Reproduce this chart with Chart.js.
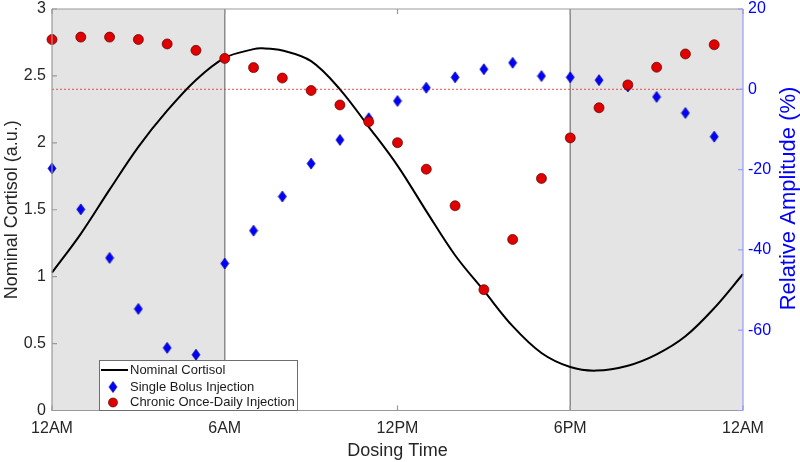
<!DOCTYPE html>
<html><head><meta charset="utf-8">
<script src="https://cdn.jsdelivr.net/npm/chart.js@4"></script>
<style>html,body{margin:0;padding:0;background:#fff;overflow:hidden}</style>
</head><body>
<canvas id="c" width="800" height="462"></canvas>
<script>
// ---------- data ----------
const hours = [0,1,2,3,4,5,6,7,8,9,10,11,12,13,14,15,16,17,18,19,20,21,22,23];
const singleBolus = [-19.7,-29.9,-42.0,-54.7,-64.4,-66.1,-43.4,-35.2,-26.7,-18.5,-12.6,-7.2,-2.9,0.4,3.0,5.0,6.6,3.3,3.0,2.3,0.7,-1.9,-5.9,-11.8];
const chronicDaily = [12.4,13.0,13.0,12.4,11.3,9.7,7.7,5.4,2.8,-0.3,-3.9,-8.1,-13.3,-19.9,-29.0,-49.9,-37.4,-22.2,-12.1,-4.6,1.1,5.5,8.8,11.1];
const curveHours = [0,1,2,3,4,5,6,7,7.3,8,9,10,11,12,13,14,15,16,17,18,18.9,20,21,22,23,24];
const curveValues = [1.03,1.32,1.65,1.97,2.24,2.47,2.635,2.70,2.706,2.69,2.61,2.40,2.12,1.83,1.49,1.16,0.895,0.63,0.43,0.325,0.298,0.335,0.42,0.555,0.765,1.02];
const refHours = [0,24];
const refValues = [0,0];
const xTickLabels = {0:'12AM',6:'6AM',12:'12PM',18:'6PM',24:'12AM'};
const nightRanges = [[0,6],[18,24]];
const seriesNames = ['Nominal Cortisol','Single Bolus Injection','Chronic Once-Daily Injection'];
const titles = {x:'Dosing Time', y:'Nominal Cortisol (a.u.)', y2:'Relative Amplitude (%)'};

// ---------- styling ----------
const FONT = "'Liberation Sans', Arial, Helvetica, sans-serif";
const BLUE = '#0000ff', RED = '#e00000';
function diamond(w,h){
  const c=document.createElement('canvas');c.width=w+2;c.height=h+2;
  const g=c.getContext('2d');
  g.beginPath();g.moveTo(c.width/2,1);g.lineTo(c.width-1,c.height/2);
  g.lineTo(c.width/2,c.height-1);g.lineTo(1,c.height/2);g.closePath();
  g.fillStyle=BLUE;g.fill();g.strokeStyle='#00008a';g.lineWidth=0.7;g.stroke();
  return c;
}
const dia = diamond(8,11);

const decor = {
  id:'decor',
  beforeDatasetsDraw(chart){
    const {ctx, chartArea:a, scales:{x}} = chart;
    ctx.save();
    ctx.fillStyle='#e4e4e4';
    nightRanges.forEach(([s,e])=>{
      const x0=x.getPixelForValue(s), x1=x.getPixelForValue(e);
      ctx.fillRect(x0,a.top,x1-x0,a.bottom-a.top);
    });
    ctx.strokeStyle='#8c8c8c'; ctx.lineWidth=1.5;
    [nightRanges[0][1], nightRanges[1][0]].forEach(h=>{
      const px=x.getPixelForValue(h);
      ctx.beginPath(); ctx.moveTo(px,a.top); ctx.lineTo(px,a.bottom); ctx.stroke();
    });
    ctx.restore();
  },
  afterDraw(chart){
    const {ctx, chartArea:a, scales:{x,y,y2}} = chart;
    ctx.save();
    // box
    ctx.lineWidth=1.2; ctx.strokeStyle='#9a9a9a';
    ctx.beginPath();
    ctx.moveTo(a.left,a.top); ctx.lineTo(a.right,a.top);
    ctx.moveTo(a.left,a.top); ctx.lineTo(a.left,a.bottom); ctx.lineTo(a.right,a.bottom);
    ctx.stroke();
    // inward ticks
    ctx.beginPath();
    y.ticks.forEach(t=>{const p=y.getPixelForValue(t.value); ctx.moveTo(a.left,p); ctx.lineTo(a.left+5,p);});
    x.ticks.forEach(t=>{const p=x.getPixelForValue(t.value); ctx.moveTo(p,a.bottom); ctx.lineTo(p,a.bottom-5); ctx.moveTo(p,a.top); ctx.lineTo(p,a.top+5);});
    ctx.stroke();
    ctx.strokeStyle='#9a9aff';
    ctx.beginPath(); ctx.moveTo(a.right,a.top); ctx.lineTo(a.right,a.bottom);
    y2.ticks.forEach(t=>{const p=y2.getPixelForValue(t.value); ctx.moveTo(a.right,p); ctx.lineTo(a.right-5,p);});
    ctx.stroke();
    // right title (reads bottom to top)
    ctx.save();
    ctx.translate(789, 198.5); ctx.rotate(-Math.PI/2);
    ctx.fillStyle=BLUE; ctx.font='22px '+FONT; ctx.textAlign='center'; ctx.textBaseline='middle';
    ctx.fillText(titles.y2,0,0);
    ctx.restore();
    // legend
    const L=99, T=360, W=198, H=50;
    ctx.fillStyle='#fff'; ctx.fillRect(L,T,W,H);
    ctx.strokeStyle='#6e6e6e'; ctx.lineWidth=1; ctx.strokeRect(L+0.5,T+0.5,W,H);
    ctx.strokeStyle='#000'; ctx.lineWidth=2;
    ctx.beginPath(); ctx.moveTo(101,370); ctx.lineTo(128,370); ctx.stroke();
    ctx.drawImage(dia,113-dia.width/2,387-dia.height/2);
    ctx.beginPath(); ctx.arc(113,402.5,4.5,0,Math.PI*2); ctx.fillStyle=RED; ctx.fill();
    ctx.strokeStyle='#5a0000'; ctx.lineWidth=0.7; ctx.stroke();
    ctx.fillStyle='#1a1a1a'; ctx.font='13px '+FONT; ctx.textAlign='left'; ctx.textBaseline='middle';
    [370,387,402.5].forEach((yy,i)=>ctx.fillText(chart.data.datasets[i].label,130,yy));
    ctx.restore();
  }
};

function noPad(s){ s.paddingTop=0; s.paddingBottom=0; }

new Chart(document.getElementById('c'), {
  type:'line',
  data:{datasets:[
    {label:seriesNames[0], data:curveHours.map((h,i)=>({x:h,y:curveValues[i]})), yAxisID:'y',
     borderColor:'#000', borderWidth:2, pointRadius:0, tension:0.35, order:3, clip:false},
    {label:seriesNames[1], data:hours.map((h,i)=>({x:h,y:singleBolus[i]})), yAxisID:'y2',
     showLine:false, pointStyle:dia, pointRadius:5, order:2, clip:false},
    {label:seriesNames[2], data:hours.map((h,i)=>({x:h,y:chronicDaily[i]})), yAxisID:'y2',
     showLine:false, pointStyle:'circle', pointRadius:5, pointBackgroundColor:RED, pointBorderColor:'#5a0000', pointBorderWidth:0.7, order:1, clip:false},
    {label:'ref', data:refHours.map((h,i)=>({x:h,y:refValues[i]})), yAxisID:'y2',
     borderColor:'rgba(225,50,50,0.85)', borderWidth:1, borderDash:[2,2], pointRadius:0, order:4}
  ]},
  options:{
    responsive:false, animation:false, devicePixelRatio:1,
    layout:{padding:{top:9,left:0,right:0,bottom:0}},
    plugins:{legend:{display:false}, tooltip:{enabled:false}},
    scales:{
      x:{type:'linear', min:0, max:24,
         grid:{display:false, drawTicks:false}, border:{display:false},
         ticks:{stepSize:6, autoSkip:false, maxRotation:0, padding:8, color:'#262626', font:{family:FONT,size:16},
                callback:v=>xTickLabels[v]},
         title:{display:true, text:titles.x, color:'#262626', font:{family:FONT,size:18}, padding:{top:2,bottom:0}},
         afterFit(s){s.height=51.5;}},
      y:{position:'left', min:0, max:3,
         grid:{display:false, drawTicks:false}, border:{display:false},
         ticks:{stepSize:0.5, padding:6, color:'#262626', font:{family:FONT,size:16},
                callback:v=>String(Math.round(v*10)/10)},
         title:{display:true, text:titles.y, color:'#262626', font:{family:FONT,size:18}, padding:{top:1,bottom:0}},
         afterFit(s){s.width=52; noPad(s);}},
      y2:{position:'right', min:-80, max:20,
         grid:{display:false, drawTicks:false}, border:{display:false},
         ticks:{stepSize:20, padding:5, color:BLUE, font:{family:FONT,size:16},
                callback:v=>v===-80?'':String(v)},
         afterFit(s){s.width=57; noPad(s);}}
    }
  },
  plugins:[decor]
});
</script>
</body></html>
